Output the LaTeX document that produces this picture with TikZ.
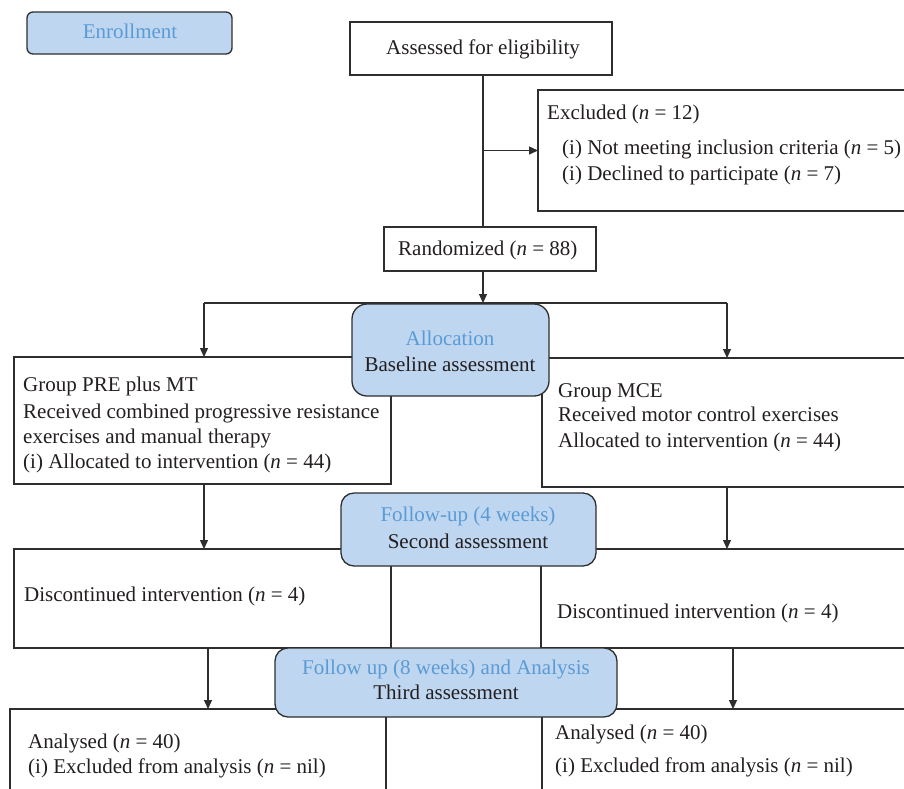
\documentclass[tikz,border=0pt]{standalone}
\usepackage{fontspec}
\setmainfont{Liberation Serif}
\usetikzlibrary{arrows.meta}
\definecolor{boxblue}{HTML}{BED6F0}
\definecolor{headblue}{HTML}{5B9BD5}
\definecolor{linegray}{HTML}{2E2E2E}
\definecolor{txt}{HTML}{231F20}
\begin{document}
\begin{tikzpicture}[x=1pt,y=-1pt,
  plainbox/.style={draw=linegray, line width=1.3pt, fill=white, inner sep=0pt, outer sep=0pt, anchor=north west},
  bluebox/.style={plainbox, fill=boxblue, rounded corners=13pt},
  lbl/.style={anchor=base west, inner sep=0pt, text=txt, font=\fontsize{21}{24}\selectfont},
  clbl/.style={anchor=base, inner sep=0pt, text=txt, font=\fontsize{21}{24}\selectfont},
  hlbl/.style={clbl, text=headblue},
  conn/.style={draw=linegray, line width=1.3pt},
  arr/.style={conn, -{Triangle[length=9pt,width=8pt]}}]
\useasboundingbox (0,0) rectangle (904,788);
\begin{scope}
\clip (0,0) rectangle (904,788);
% plain boxes
\node[plainbox, minimum width=262pt, minimum height=53pt] (assess) at (350,22) {};
\node[plainbox, minimum width=380pt, minimum height=121pt] (excl) at (538,90) {};
\node[plainbox, minimum width=212pt, minimum height=44pt] (rand) at (384,227) {};
\node[plainbox, minimum width=377pt, minimum height=127pt] (grpL) at (14,357) {};
\node[plainbox, minimum width=380pt, minimum height=129pt] (grpR) at (542,358) {};
\node[plainbox, minimum width=377pt, minimum height=99pt] (discL) at (14,549) {};
\node[plainbox, minimum width=380pt, minimum height=99pt] (discR) at (541,549) {};
\node[plainbox, minimum width=376pt, minimum height=110pt] (anaL) at (10,709) {};
\node[plainbox, minimum width=380pt, minimum height=110pt] (anaR) at (542,709) {};
% connector guides
\coordinate (vx) at (483,0);
\coordinate (split) at (483,303);
\coordinate (hl) at (204,303);
\coordinate (hr) at (727,303);
\coordinate (xl2) at (204,0);
\coordinate (xr2) at (727,0);
\coordinate (xl3) at (208,0);
\coordinate (xr3) at (733,0);
% connectors
\draw[conn] (vx |- assess.south) -- (vx |- rand.north);
\draw[arr] (vx |- excl.west) -- (excl.west);
\draw[arr] (vx |- rand.south) -- (split);
\draw[conn] (hl) -- (hr);
\draw[arr] (hl) -- (hl |- grpL.north);
\draw[arr] (hr) -- (hr |- grpR.north);
\draw[arr] (xl2 |- grpL.south) -- (xl2 |- discL.north);
\draw[arr] (xr2 |- grpR.south) -- (xr2 |- discR.north);
\draw[arr] (xl3 |- discL.south) -- (xl3 |- anaL.north);
\draw[arr] (xr3 |- discR.south) -- (xr3 |- anaR.north);
% blue boxes
\node[bluebox, rounded corners=6pt, minimum width=205pt, minimum height=42pt] (enroll) at (27,12) {};
\node[bluebox, rounded corners=15pt, minimum width=197pt, minimum height=92pt] (alloc) at (352,304) {};
\node[bluebox, minimum width=255pt, minimum height=73pt] (fu4) at (341,493) {};
\node[bluebox, minimum width=342pt, minimum height=69pt] (fu8) at (275,648) {};
% texts
\node[hlbl] (tenroll) at (130,38) {Enrollment};
\node[lbl] (tassess) at (386,54) {Assessed for eligibility};
\node[lbl] (texcl1) at (547,119) {Excluded (\textit{n} = 12)};
\node[lbl] (texcl2) at (562,154) {(i) Not meeting inclusion criteria (\textit{n} = 5)};
\node[lbl] (texcl3) at (562,180) {(i) Declined to participate (\textit{n} = 7)};
\node[lbl] (trand) at (398,255) {Randomized (\textit{n} = 88)};
\node[hlbl] (talloc1) at (450,345) {Allocation};
\node[clbl] (talloc2) at (450,371) {Baseline assessment};
\node[lbl] (tgl1) at (23,391) {Group PRE plus MT};
\node[lbl] (tgl2) at (23,418) {Received combined progressive resistance};
\node[lbl] (tgl3) at (23,443) {exercises and manual therapy};
\node[lbl] (tgl4) at (23,468) {(i) Allocated to intervention (\textit{n} = 44)};
\node[lbl] (tgr1) at (558,397) {Group MCE};
\node[lbl] (tgr2) at (558,421) {Received motor control exercises};
\node[lbl] (tgr3) at (558,447) {Allocated to intervention (\textit{n} = 44)};
\node[hlbl] (tfu41) at (468,521) {Follow-up (4 weeks)};
\node[clbl] (tfu42) at (468,548) {Second assessment};
\node[lbl] (tdl) at (24,601) {Discontinued intervention (\textit{n} = 4)};
\node[lbl] (tdr) at (557,618) {Discontinued intervention (\textit{n} = 4)};
\node[hlbl] (tfu81) at (446,674) {Follow up (8 weeks) and Analysis};
\node[clbl] (tfu82) at (446,699) {Third assessment};
\node[lbl] (tal1) at (28,748) {Analysed (\textit{n} = 40)};
\node[lbl] (tal2) at (28,773) {(i) Excluded from analysis (\textit{n} = nil)};
\node[lbl] (tar1) at (555,739) {Analysed (\textit{n} = 40)};
\node[lbl] (tar2) at (555,772) {(i) Excluded from analysis (\textit{n} = nil)};
\end{scope}
\end{tikzpicture}
\end{document}
